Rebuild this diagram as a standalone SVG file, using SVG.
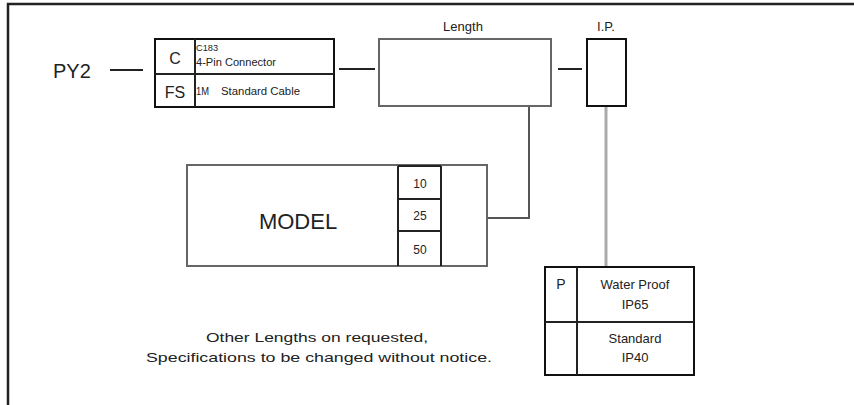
<svg xmlns="http://www.w3.org/2000/svg" width="854" height="405" viewBox="0 0 854 405">
<style>
text{font-family:"Liberation Sans",Arial,sans-serif;fill:#222}
.box{fill:#fff;stroke:#111;stroke-width:2}
.gbox{fill:#fff;stroke:#666;stroke-width:2}
.ln{stroke:#222;stroke-width:2;fill:none}
.gl{stroke:#555;stroke-width:2;fill:none}
.lg{stroke:#aaa;stroke-width:3;fill:none}
.c{text-anchor:middle}
</style>
<rect width="854" height="405" fill="#fff"/>
<path d="M8 405V4H854" fill="none" stroke="#222" stroke-width="2.5"/>
<g id="connectors">
<line class="ln" x1="110" y1="70" x2="143" y2="70"/>
<line class="ln" x1="339" y1="69" x2="375" y2="69"/>
<line class="ln" x1="558" y1="69" x2="582" y2="69"/>
<path class="gl" d="M529 106V218H487"/>
<line class="lg" x1="606" y1="107" x2="606" y2="266"/>
</g>
<g id="py2">
<text x="53" y="78" font-size="20">PY2</text>
</g>
<g id="connector-box">
<rect class="box" x="155" y="39" width="179" height="68"/>
<line class="ln" x1="195" y1="39" x2="195" y2="107"/>
<line class="ln" x1="155" y1="74" x2="334" y2="74"/>
<text x="175" y="64" font-size="16" class="c">C</text>
<text x="175" y="98" font-size="16" class="c">FS</text>
<text x="196" y="51" font-size="9" textLength="22" lengthAdjust="spacingAndGlyphs">C183</text>
<text x="196" y="66" font-size="10" textLength="80" lengthAdjust="spacingAndGlyphs">4-Pin Connector</text>
<text x="196" y="95" font-size="10" textLength="13" lengthAdjust="spacingAndGlyphs">1M</text>
<text x="221" y="95" font-size="10" textLength="79" lengthAdjust="spacingAndGlyphs">Standard Cable</text>
</g>
<g id="length">
<text x="463" y="31" font-size="13" class="c">Length</text>
<rect class="gbox" x="379" y="39" width="172" height="67"/>
</g>
<g id="ip">
<text x="606" y="31" font-size="13" class="c">I.P.</text>
<rect class="box" x="587" y="39" width="39" height="67"/>
</g>
<g id="model">
<rect class="gbox" x="187" y="165" width="300" height="101"/>
<path class="ln" d="M398 166V266M441 166V266M398 166H441M398 199H441M398 231H441"/>
<text x="298" y="229" font-size="22" class="c">MODEL</text>
<text x="420" y="188" font-size="12" class="c">10</text>
<text x="420" y="220" font-size="12" class="c">25</text>
<text x="420" y="254" font-size="12" class="c">50</text>
</g>
<g id="ip-options">
<rect class="box" x="545" y="267" width="149" height="108"/>
<line class="ln" x1="577" y1="267" x2="577" y2="375"/>
<line class="ln" x1="545" y1="322" x2="694" y2="322"/>
<text x="561" y="289" font-size="14" class="c">P</text>
<text x="635" y="289" font-size="13" class="c">Water Proof</text>
<text x="635" y="309" font-size="13" class="c">IP65</text>
<text x="635" y="343" font-size="13" class="c">Standard</text>
<text x="635" y="362" font-size="13" class="c">IP40</text>
</g>
<g id="note">
<text x="317" y="342" font-size="13" class="c" textLength="222" lengthAdjust="spacingAndGlyphs">Other Lengths on requested,</text>
<text x="319" y="362" font-size="13" class="c" textLength="346" lengthAdjust="spacingAndGlyphs">Specifications to be changed without notice.</text>
</g>
</svg>
